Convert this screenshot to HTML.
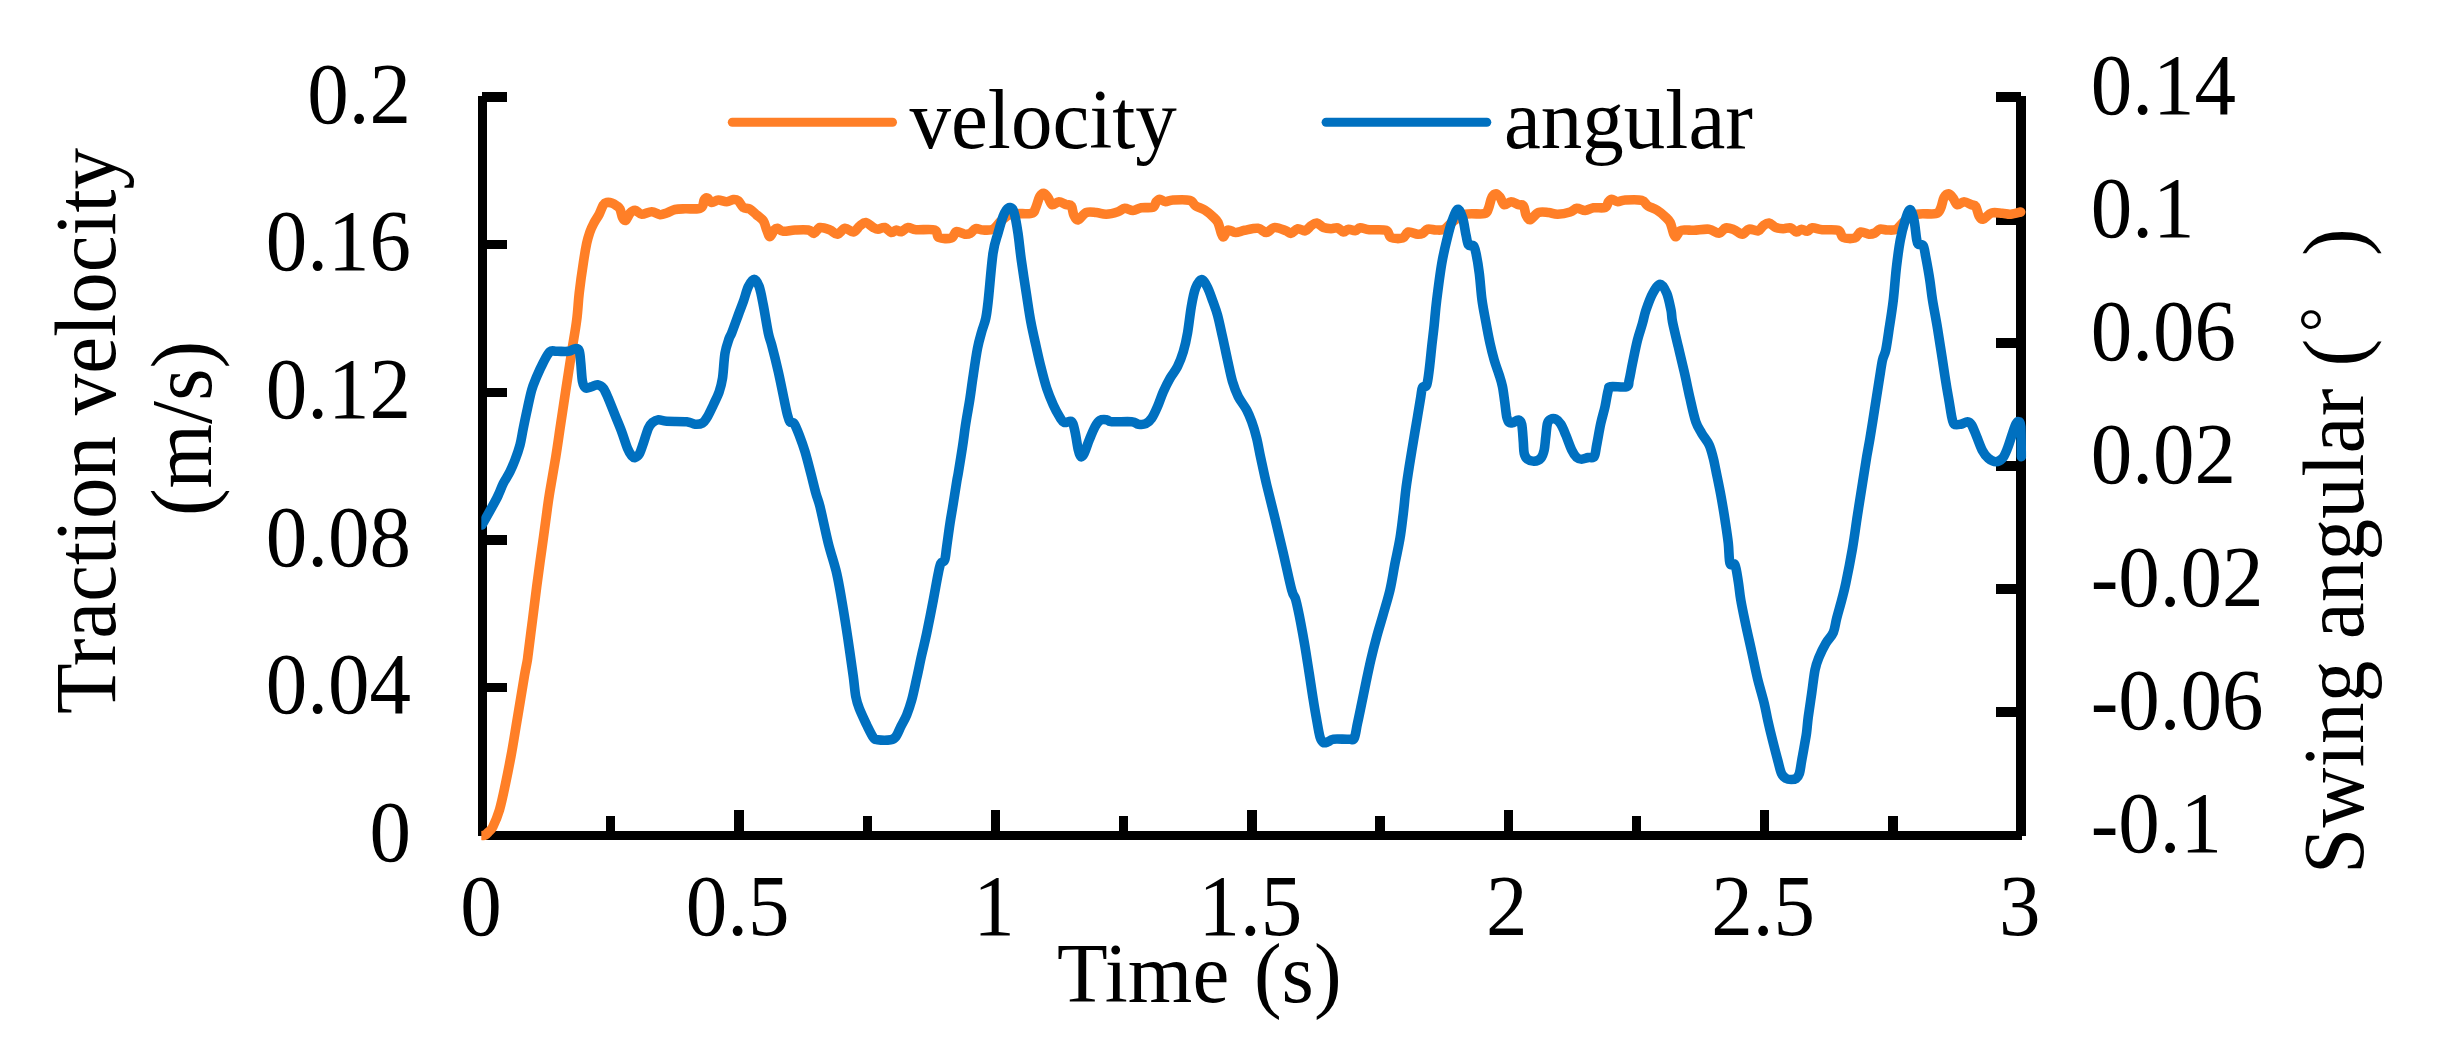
<!DOCTYPE html>
<html><head><meta charset="utf-8"><title>Traction velocity and swing angular</title>
<style>
html,body{margin:0;padding:0;background:#fff;}
body{width:2448px;height:1041px;overflow:hidden;}
svg{display:block;}
text{font-family:"Liberation Serif","Times New Roman",serif;font-size:83px;fill:#000;}
</style></head><body>
<svg width="2448" height="1041" viewBox="0 0 2448 1041">
<rect width="2448" height="1041" fill="#fff"/>

<g fill="#000" shape-rendering="crispEdges">
<rect x="478" y="96" width="9" height="739.5"/>
<rect x="2016" y="96" width="10" height="739.5"/>
<rect x="481.5" y="830.5" width="1540.5" height="9"/>
<rect x="482" y="682.7" width="25" height="9.4"/>
<rect x="482" y="535.1" width="25" height="9.4"/>
<rect x="482" y="387.5" width="25" height="9.4"/>
<rect x="482" y="239.9" width="25" height="9.4"/>
<rect x="482" y="92.3" width="25" height="9.4"/>
<rect x="1996" y="707.3" width="25" height="9.4"/>
<rect x="1996" y="584.3" width="25" height="9.4"/>
<rect x="1996" y="461.3" width="25" height="9.4"/>
<rect x="1996" y="338.3" width="25" height="9.4"/>
<rect x="1996" y="215.3" width="25" height="9.4"/>
<rect x="1996" y="92.3" width="25" height="9.4"/>
<rect x="606.0" y="816" width="9.4" height="15"/>
<rect x="734.2" y="810" width="9.4" height="21"/>
<rect x="862.5" y="816" width="9.4" height="15"/>
<rect x="990.7" y="810" width="9.4" height="21"/>
<rect x="1118.9" y="816" width="9.4" height="15"/>
<rect x="1247.1" y="810" width="9.4" height="21"/>
<rect x="1375.4" y="816" width="9.4" height="15"/>
<rect x="1503.6" y="810" width="9.4" height="21"/>
<rect x="1631.8" y="816" width="9.4" height="15"/>
<rect x="1760.0" y="810" width="9.4" height="21"/>
<rect x="1888.3" y="816" width="9.4" height="15"/>
</g>
<defs><clipPath id="pc"><rect x="481.3" y="80" width="1560" height="780"/></clipPath></defs><g clip-path="url(#pc)">
<path d="M482.5 835.5C482.9 835.5 484.1 835.8 485.1 835.2C486.1 834.6 487.2 833.4 488.5 832.0C489.8 830.6 491.0 830.7 492.8 827.0C494.6 823.3 497.4 816.8 499.5 809.8C501.6 802.8 503.4 793.8 505.3 784.8C507.2 775.8 509.2 765.6 511.0 756.0C512.8 746.4 514.3 736.8 515.9 727.2C517.5 717.6 519.3 707.0 520.7 698.4C522.1 689.8 523.4 681.8 524.5 675.4C525.6 669.0 526.8 663.7 527.4 660.0C528.0 656.3 527.4 659.7 528.3 653.0C529.1 646.3 531.1 631.0 532.5 620.0C533.9 609.0 535.2 598.4 536.7 586.7C538.2 575.0 540.0 562.2 541.7 550.0C543.4 537.8 545.4 522.8 546.7 513.3C548.0 503.8 548.1 502.4 549.6 493.0C551.1 483.6 553.9 468.3 555.8 456.7C557.7 445.1 559.1 434.4 560.8 423.3C562.5 412.2 564.0 401.9 565.8 390.0C567.6 378.1 569.9 363.4 571.7 351.7C573.5 340.0 575.5 329.7 576.7 320.0C578.0 310.3 578.1 302.8 579.2 293.3C580.3 283.9 582.0 271.6 583.3 263.3C584.5 255.0 585.6 248.6 586.7 243.3C587.8 238.0 588.8 235.2 590.0 231.7C591.2 228.2 592.7 225.4 594.2 222.5C595.7 219.6 597.7 217.1 599.2 214.2C600.7 211.3 602.0 206.9 603.3 205.0C604.5 203.1 605.3 202.8 606.7 202.5C608.1 202.2 610.0 202.4 611.7 203.0C613.4 203.6 615.3 204.8 616.7 205.8C618.1 206.8 619.0 207.1 620.0 209.0C621.0 210.9 621.5 215.6 622.5 217.5C623.5 219.4 624.5 221.0 625.8 220.3C627.0 219.6 628.5 215.0 630.0 213.3C631.5 211.6 633.0 210.2 635.0 210.3C637.0 210.5 638.9 214.0 641.7 214.2C644.5 214.4 648.7 211.6 651.7 211.7C654.8 211.8 657.5 214.5 660.0 214.7C662.5 214.9 664.2 213.9 666.7 213.0C669.2 212.1 672.0 210.2 675.0 209.5C678.0 208.8 681.1 208.9 685.0 208.8C688.9 208.7 695.4 209.1 698.3 208.7C701.2 208.3 701.5 207.8 702.5 206.3C703.5 204.9 703.4 201.4 704.2 200.0C705.0 198.6 706.2 197.6 707.5 198.0C708.8 198.4 709.9 202.2 711.7 202.5C713.5 202.8 715.8 200.1 718.3 200.0C720.8 199.9 724.2 201.8 726.7 201.7C729.2 201.6 731.4 199.7 733.3 199.5C735.2 199.3 736.6 199.5 738.3 200.8C740.0 202.1 741.3 206.1 743.3 207.5C745.2 208.9 747.8 207.9 750.0 209.2C752.2 210.4 754.5 213.1 756.7 215.0C758.9 216.9 761.6 218.3 763.3 220.8C765.0 223.3 765.6 227.3 766.7 230.0C767.8 232.7 768.8 236.7 770.0 236.7C771.2 236.7 773.0 231.4 774.2 230.0C775.5 228.6 776.0 228.1 777.5 228.3C779.0 228.5 780.4 231.0 783.3 231.3C786.2 231.6 790.8 230.2 795.0 230.0C799.2 229.8 805.1 229.4 808.3 230.0C811.5 230.6 812.2 233.7 814.2 233.3C816.2 232.9 817.4 228.1 820.0 227.5C822.6 226.9 827.1 228.9 830.0 230.0C832.9 231.1 835.0 234.5 837.5 234.2C840.0 233.9 842.4 228.7 845.0 228.3C847.6 227.9 850.8 232.4 853.3 232.0C855.8 231.6 857.9 227.4 860.0 225.8C862.1 224.2 863.6 222.2 865.8 222.5C868.0 222.8 871.3 226.4 873.3 227.5C875.3 228.6 876.1 229.2 878.0 229.2C879.9 229.2 882.5 226.9 884.7 227.5C886.9 228.1 889.4 232.1 891.3 232.5C893.2 232.9 894.6 230.1 896.3 230.0C898.0 229.9 899.3 232.1 901.3 231.7C903.2 231.3 905.5 227.8 908.0 227.5C910.5 227.2 911.8 229.3 916.3 229.7C920.8 230.1 931.0 228.7 934.7 230.0C938.5 231.3 936.0 236.2 938.8 237.5C941.6 238.8 948.4 239.0 951.3 238.0C954.2 237.0 954.1 232.3 956.3 231.7C958.5 231.1 962.3 233.9 964.7 234.2C967.1 234.5 968.7 234.2 970.5 233.3C972.3 232.4 973.4 229.2 975.5 228.7C977.6 228.1 980.1 229.9 983.0 230.0C985.9 230.1 990.0 230.7 993.0 229.2C996.0 227.7 998.2 223.3 1001.3 220.8C1004.3 218.3 1006.3 215.4 1011.3 214.2C1016.3 212.9 1027.3 214.3 1031.3 213.3C1035.3 212.3 1034.1 211.1 1035.5 208.3C1036.9 205.5 1038.3 199.2 1039.7 196.7C1041.1 194.2 1042.4 193.2 1043.8 193.3C1045.2 193.4 1046.6 195.6 1048.0 197.5C1049.4 199.4 1050.4 204.0 1052.2 204.7C1054.0 205.4 1056.5 201.7 1058.8 201.7C1061.1 201.7 1064.2 204.0 1066.3 204.7C1068.4 205.4 1070.0 204.1 1071.3 205.8C1072.5 207.5 1072.7 212.6 1073.8 215.0C1074.9 217.4 1075.9 220.4 1078.0 220.0C1080.1 219.6 1083.2 213.8 1086.3 212.5C1089.3 211.2 1093.0 212.2 1096.3 212.5C1099.6 212.8 1102.7 214.3 1106.3 214.2C1109.9 214.1 1114.9 212.7 1118.0 211.7C1121.1 210.7 1122.2 208.5 1124.7 208.3C1127.2 208.1 1130.2 210.6 1133.0 210.5C1135.8 210.4 1138.0 208.4 1141.3 207.8C1144.6 207.2 1150.5 208.2 1153.0 207.2C1155.5 206.2 1155.2 203.0 1156.3 201.7C1157.4 200.4 1158.2 199.2 1159.7 199.2C1161.2 199.2 1163.3 201.6 1165.5 201.7C1167.7 201.8 1169.0 200.2 1173.0 200.0C1177.0 199.8 1186.0 199.3 1189.7 200.3C1193.5 201.3 1193.0 204.2 1195.5 205.8C1198.0 207.4 1201.8 208.2 1204.7 210.0C1207.6 211.8 1210.8 214.6 1213.0 216.7C1215.2 218.8 1216.6 219.7 1218.0 222.5C1219.4 225.3 1220.3 230.9 1221.3 233.3C1222.3 235.7 1222.7 237.2 1223.8 236.7C1224.9 236.1 1226.0 230.7 1228.0 230.0C1230.0 229.3 1232.7 232.4 1235.5 232.5C1238.3 232.6 1241.0 231.0 1244.7 230.3C1248.5 229.6 1254.4 227.9 1258.0 228.3C1261.6 228.7 1263.5 232.6 1266.3 232.5C1269.1 232.4 1271.4 227.8 1274.7 227.5C1278.0 227.2 1283.3 229.8 1286.0 230.8C1288.7 231.8 1289.0 233.7 1291.0 233.3C1293.0 233.0 1295.3 229.1 1297.7 228.7C1300.1 228.3 1303.0 231.3 1305.2 230.8C1307.4 230.3 1309.1 227.1 1311.0 225.8C1312.9 224.5 1314.7 222.7 1316.8 223.0C1318.9 223.3 1321.1 226.6 1323.5 227.5C1325.9 228.4 1328.6 228.6 1331.0 228.7C1333.4 228.8 1335.6 227.2 1337.7 227.8C1339.8 228.4 1341.7 231.8 1343.5 232.0C1345.3 232.2 1346.5 229.4 1348.5 229.2C1350.5 229.0 1353.2 231.0 1355.2 230.8C1357.2 230.6 1357.9 228.0 1360.2 227.8C1362.5 227.6 1365.0 229.3 1369.3 229.7C1373.6 230.1 1382.4 229.0 1386.0 230.3C1389.6 231.6 1388.2 236.2 1391.0 237.5C1393.8 238.8 1399.8 238.9 1402.7 238.0C1405.6 237.1 1406.0 232.6 1408.5 232.0C1411.0 231.4 1415.3 234.0 1417.7 234.2C1420.1 234.4 1421.0 234.1 1422.7 233.3C1424.4 232.5 1425.5 229.8 1427.7 229.2C1429.9 228.6 1433.2 230.0 1436.0 230.0C1438.8 230.0 1441.5 230.6 1444.3 229.2C1447.1 227.8 1449.1 224.2 1452.7 221.7C1456.3 219.2 1460.7 215.5 1466.0 214.2C1471.3 212.9 1480.5 214.7 1484.3 213.7C1488.0 212.7 1487.2 211.0 1488.5 208.3C1489.8 205.6 1490.5 199.9 1491.8 197.5C1493.0 195.1 1494.6 193.7 1496.0 193.7C1497.4 193.7 1498.8 195.7 1500.2 197.5C1501.6 199.3 1502.5 204.0 1504.3 204.7C1506.1 205.4 1508.6 201.7 1511.0 201.7C1513.4 201.7 1516.4 204.0 1518.5 204.7C1520.6 205.4 1522.2 204.1 1523.5 205.8C1524.8 207.5 1524.9 212.7 1526.0 215.0C1527.1 217.3 1528.1 220.1 1530.2 219.7C1532.3 219.3 1535.5 213.7 1538.5 212.5C1541.5 211.3 1545.3 212.2 1548.5 212.5C1551.7 212.8 1554.1 214.3 1557.7 214.2C1561.3 214.1 1567.0 213.0 1570.2 212.0C1573.4 211.0 1574.3 208.6 1576.8 208.3C1579.3 208.1 1582.4 210.6 1585.2 210.5C1588.0 210.4 1590.2 208.3 1593.5 207.8C1596.8 207.3 1602.7 208.5 1605.2 207.5C1607.7 206.5 1607.4 203.1 1608.5 201.7C1609.6 200.3 1610.3 199.2 1611.8 199.2C1613.3 199.2 1615.5 201.6 1617.7 201.7C1619.9 201.8 1621.2 200.2 1625.2 200.0C1629.2 199.8 1638.0 199.3 1641.8 200.3C1645.5 201.3 1645.2 204.2 1647.7 205.8C1650.2 207.4 1653.9 208.2 1656.8 210.0C1659.7 211.8 1663.0 214.6 1665.2 216.7C1667.4 218.8 1668.8 219.7 1670.2 222.5C1671.6 225.3 1672.5 230.9 1673.5 233.3C1674.5 235.7 1674.9 237.1 1676.0 236.7C1677.1 236.3 1678.5 231.9 1680.2 230.8C1681.9 229.7 1683.7 230.1 1686.0 230.0C1688.3 229.9 1690.2 230.4 1694.0 230.3C1697.8 230.2 1704.8 228.7 1709.0 229.2C1713.2 229.7 1716.2 233.5 1719.0 233.3C1721.8 233.1 1723.2 228.6 1725.7 228.0C1728.2 227.4 1731.2 228.7 1734.0 229.7C1736.8 230.7 1739.8 234.3 1742.3 234.2C1744.8 234.1 1746.3 229.8 1749.0 229.2C1751.7 228.6 1755.8 231.4 1758.2 230.8C1760.6 230.2 1761.4 227.1 1763.2 225.8C1765.0 224.5 1766.9 222.7 1769.0 223.0C1771.1 223.3 1773.3 226.6 1775.7 227.5C1778.1 228.4 1780.7 228.6 1783.2 228.7C1785.7 228.8 1788.5 227.2 1790.7 227.8C1792.9 228.4 1794.7 231.8 1796.5 232.0C1798.3 232.2 1799.7 229.3 1801.5 229.2C1803.3 229.1 1805.5 231.5 1807.3 231.3C1809.1 231.1 1809.8 228.1 1812.3 227.8C1814.8 227.5 1818.0 229.3 1822.3 229.7C1826.6 230.1 1834.7 229.0 1838.2 230.3C1841.7 231.6 1840.4 236.2 1843.2 237.5C1846.0 238.8 1851.9 238.9 1854.8 238.0C1857.7 237.1 1858.3 232.6 1860.7 232.0C1863.1 231.4 1866.7 234.0 1869.0 234.2C1871.3 234.4 1873.0 233.8 1874.8 233.0C1876.6 232.2 1877.7 229.7 1879.8 229.2C1881.9 228.7 1884.5 230.0 1887.3 230.0C1890.1 230.0 1893.6 230.7 1896.5 229.2C1899.4 227.7 1901.3 223.3 1904.8 220.8C1908.3 218.3 1912.1 215.4 1917.3 214.2C1922.5 213.0 1931.8 214.7 1935.7 213.7C1939.6 212.7 1939.3 211.0 1940.7 208.3C1942.1 205.6 1942.7 199.9 1944.0 197.5C1945.3 195.1 1947.2 193.6 1948.7 193.7C1950.2 193.8 1951.8 196.5 1953.2 198.3C1954.6 200.1 1955.5 204.1 1957.3 204.7C1959.1 205.3 1961.6 201.7 1964.0 201.7C1966.4 201.7 1969.5 203.9 1971.5 204.7C1973.5 205.5 1974.5 204.5 1975.7 206.3C1977.0 208.2 1977.8 213.7 1979.0 215.8C1980.2 218.0 1981.1 219.7 1983.2 219.2C1985.3 218.7 1988.3 214.0 1991.5 213.0C1994.7 212.0 1999.1 213.1 2002.3 213.3C2005.5 213.5 2007.6 214.4 2010.7 214.2C2013.8 214.0 2019.0 212.4 2020.7 212.0" fill="none" stroke="#FF7F27" stroke-width="9.6" stroke-linejoin="round" stroke-linecap="round"/>
<path d="M482.0 525.0C484.2 521.1 492.1 507.0 495.0 501.7C497.9 496.4 497.8 496.1 499.2 493.0C500.6 489.9 501.5 486.9 503.3 483.3C505.1 479.8 508.1 475.6 510.0 471.7C511.9 467.8 513.3 464.4 515.0 460.0C516.7 455.6 518.6 450.3 520.0 445.0C521.4 439.7 522.0 434.4 523.3 428.3C524.5 422.2 526.1 414.7 527.5 408.3C528.9 401.9 530.2 395.3 531.7 390.0C533.2 384.7 534.8 381.3 536.7 376.7C538.6 372.1 541.1 366.7 543.3 362.5C545.5 358.3 547.8 353.6 550.0 351.7C552.2 349.8 553.7 351.4 556.7 351.3C559.8 351.2 565.2 351.7 568.3 351.3C571.3 350.9 573.2 348.8 575.0 348.7C576.8 348.6 578.2 348.4 579.2 350.8C580.2 353.2 580.2 358.2 580.8 363.3C581.3 368.4 581.7 377.6 582.5 381.7C583.3 385.8 584.3 387.2 585.8 388.0C587.3 388.8 589.8 387.2 591.7 386.7C593.7 386.1 595.6 384.4 597.5 384.7C599.4 385.0 601.5 386.0 603.3 388.3C605.1 390.6 606.3 393.9 608.3 398.3C610.2 402.8 612.8 409.4 615.0 415.0C617.2 420.6 619.6 426.1 621.7 431.7C623.8 437.2 625.8 444.3 627.5 448.3C629.2 452.3 630.5 454.3 631.7 455.8C633.0 457.3 633.8 457.8 635.0 457.5C636.2 457.2 637.8 456.6 639.2 454.2C640.6 451.8 641.8 447.6 643.3 443.3C644.8 439.0 646.8 431.8 648.3 428.3C649.8 424.8 650.8 423.9 652.5 422.5C654.2 421.1 655.9 419.9 658.3 419.7C660.7 419.5 662.0 421.0 666.7 421.3C671.4 421.6 682.0 421.2 686.7 421.7C691.4 422.2 692.4 424.0 695.0 424.2C697.6 424.4 700.4 424.2 702.5 423.0C704.6 421.8 705.7 419.7 707.5 416.7C709.3 413.7 711.3 409.2 713.3 405.0C715.2 400.8 717.7 396.1 719.2 391.7C720.7 387.2 721.5 384.7 722.5 378.3C723.5 371.9 723.9 360.0 725.0 353.3C726.1 346.6 728.1 341.7 729.2 338.3C730.3 334.9 730.2 336.9 731.7 333.0C733.2 329.1 736.4 320.2 738.3 315.0C740.2 309.8 741.6 306.4 743.3 301.7C745.0 297.0 746.5 290.4 748.3 286.7C750.1 283.0 752.4 279.3 754.2 279.3C756.0 279.3 757.7 282.4 759.2 286.7C760.7 291.0 761.8 297.3 763.3 305.0C764.8 312.7 766.9 326.3 768.3 333.0C769.7 339.7 770.0 338.6 771.7 345.0C773.4 351.4 776.2 362.5 778.3 371.7C780.4 380.9 782.7 392.8 784.2 400.0C785.7 407.2 786.5 411.3 787.5 415.0C788.5 418.7 788.9 420.6 790.0 422.0C791.1 423.4 792.7 421.5 794.2 423.7C795.7 425.9 797.4 430.3 799.2 435.0C801.0 439.7 803.1 445.3 805.0 451.7C806.9 458.1 809.0 466.4 810.8 473.3C812.6 480.2 814.3 487.4 815.8 493.0C817.3 498.6 817.9 498.3 820.0 506.7C822.1 515.1 825.5 532.2 828.3 543.3C831.1 554.4 834.5 563.8 836.7 573.3C838.9 582.8 840.2 591.4 841.7 600.0C843.2 608.6 844.4 616.1 845.8 625.0C847.2 633.9 848.8 644.7 850.0 653.3C851.2 661.9 852.3 669.5 853.3 676.7C854.3 683.9 854.8 691.4 855.8 696.7C856.8 702.0 857.4 703.6 859.2 708.3C861.0 713.0 864.4 720.1 866.7 725.0C869.1 729.9 871.5 735.0 873.3 737.5C875.1 740.0 874.6 739.3 877.5 739.7C880.4 740.1 887.8 740.2 890.8 739.7C893.8 739.2 894.1 738.9 895.8 736.7C897.5 734.5 899.0 730.3 900.8 726.7C902.6 723.1 904.9 719.5 906.7 715.0C908.5 710.5 910.0 706.1 911.7 700.0C913.4 693.9 915.0 685.8 916.7 678.3C918.4 670.8 920.0 662.5 921.7 655.0C923.4 647.5 924.8 642.5 926.7 633.3C928.6 624.1 931.4 610.0 933.3 600.0C935.2 590.0 937.0 579.4 938.3 573.3C939.5 567.2 939.7 565.5 940.8 563.3C941.9 561.1 943.7 562.8 944.7 560.0C945.7 557.2 945.8 552.8 946.7 546.7C947.6 540.6 948.9 530.5 950.0 523.3C951.1 516.1 952.2 510.2 953.3 503.3C954.4 496.4 955.9 486.8 956.7 481.7C957.5 476.6 957.3 478.8 958.3 473.0C959.3 467.2 961.2 455.0 962.5 446.7C963.8 438.4 964.5 431.4 965.8 423.3C967.0 415.2 968.8 406.4 970.0 398.3C971.2 390.2 972.0 383.3 973.3 375.0C974.5 366.7 976.1 355.5 977.5 348.3C978.9 341.1 980.3 336.7 981.7 331.7C983.1 326.7 984.7 323.6 985.8 318.3C986.9 313.0 987.1 310.8 988.3 300.0C989.5 289.2 991.4 264.4 993.0 253.3C994.6 242.2 996.3 239.4 998.0 233.3C999.7 227.2 1001.6 220.6 1003.0 216.7C1004.4 212.8 1005.2 211.5 1006.3 210.0C1007.4 208.5 1008.5 207.2 1009.7 207.5C1011.0 207.8 1012.4 207.4 1013.8 211.7C1015.2 216.0 1016.8 225.2 1018.0 233.3C1019.2 241.4 1019.9 250.0 1021.3 260.0C1022.7 270.0 1024.7 283.0 1026.3 293.3C1027.9 303.6 1029.2 313.1 1030.8 321.7C1032.4 330.3 1034.1 337.5 1035.8 345.0C1037.5 352.5 1039.0 359.5 1040.8 366.7C1042.6 373.9 1044.6 381.9 1046.7 388.3C1048.8 394.7 1051.1 400.1 1053.3 405.0C1055.5 409.9 1058.2 414.6 1060.0 417.5C1061.8 420.4 1062.2 421.8 1064.2 422.5C1066.2 423.2 1069.9 420.2 1071.7 421.7C1073.5 423.2 1073.9 427.0 1075.0 431.7C1076.1 436.4 1077.3 445.8 1078.3 450.0C1079.3 454.2 1079.8 456.1 1080.8 456.7C1081.8 457.2 1082.8 456.1 1084.2 453.3C1085.6 450.5 1087.4 444.4 1089.2 440.0C1091.0 435.6 1093.2 430.0 1095.0 426.7C1096.8 423.4 1098.0 421.5 1100.0 420.3C1102.0 419.1 1104.8 419.5 1106.7 419.7C1108.7 419.9 1107.5 421.4 1111.7 421.7C1115.9 422.0 1127.3 421.3 1131.7 421.7C1136.1 422.1 1136.0 423.9 1138.3 424.2C1140.6 424.5 1143.6 424.7 1145.8 423.7C1148.0 422.7 1149.8 421.1 1151.7 418.3C1153.7 415.5 1155.6 411.1 1157.5 406.7C1159.4 402.3 1161.2 396.4 1163.3 391.7C1165.4 387.0 1167.6 382.5 1170.0 378.3C1172.4 374.1 1175.3 371.1 1177.5 366.7C1179.7 362.3 1181.6 357.3 1183.3 351.7C1185.0 346.1 1186.2 340.8 1187.5 333.3C1188.8 325.8 1190.0 314.2 1191.3 306.7C1192.6 299.2 1193.8 292.8 1195.5 288.3C1197.2 283.8 1199.3 280.0 1201.3 279.7C1203.2 279.4 1205.2 283.0 1207.2 286.7C1209.2 290.4 1211.3 297.0 1213.0 301.7C1214.7 306.4 1215.9 309.2 1217.5 315.0C1219.1 320.8 1220.8 329.2 1222.5 336.7C1224.2 344.2 1225.8 352.5 1227.5 360.0C1229.2 367.5 1230.7 375.6 1232.5 381.7C1234.3 387.8 1235.9 392.0 1238.3 396.7C1240.7 401.4 1244.5 405.8 1246.7 410.0C1248.9 414.2 1250.0 417.0 1251.7 421.7C1253.4 426.4 1255.2 432.2 1256.7 438.3C1258.2 444.4 1259.1 450.5 1260.8 458.3C1262.5 466.1 1264.3 475.0 1266.7 485.0C1269.1 495.0 1272.2 506.9 1275.0 518.3C1277.8 529.7 1280.5 541.3 1283.3 553.3C1286.1 565.2 1289.6 582.2 1291.7 590.0C1293.8 597.8 1294.3 594.5 1295.8 600.0C1297.3 605.5 1299.3 615.5 1300.8 623.3C1302.3 631.1 1303.6 638.4 1305.0 646.7C1306.4 655.0 1307.8 664.4 1309.2 673.3C1310.6 682.2 1312.0 692.2 1313.3 700.0C1314.5 707.8 1315.6 713.8 1316.7 720.0C1317.8 726.2 1318.9 733.2 1320.0 737.0C1321.1 740.8 1321.9 741.7 1323.3 742.5C1324.7 743.3 1326.6 742.2 1328.3 741.7C1330.0 741.2 1329.8 739.6 1333.3 739.2C1336.8 738.8 1345.5 739.4 1349.0 739.2C1352.5 739.0 1352.8 740.9 1354.2 738.2C1355.6 735.6 1356.2 729.1 1357.5 723.3C1358.8 717.5 1360.3 710.0 1361.7 703.3C1363.1 696.6 1364.3 690.5 1365.8 683.3C1367.3 676.1 1369.0 667.8 1370.8 660.0C1372.6 652.2 1374.6 644.4 1376.7 636.7C1378.8 629.0 1381.1 621.8 1383.3 614.0C1385.5 606.2 1388.0 598.5 1390.0 590.0C1392.0 581.5 1393.3 571.9 1395.0 563.3C1396.7 554.7 1398.6 546.6 1400.0 538.3C1401.4 530.0 1402.3 521.3 1403.3 513.3C1404.3 505.2 1404.8 497.8 1405.8 490.0C1406.8 482.2 1408.0 474.8 1409.2 466.7C1410.5 458.6 1411.9 450.0 1413.3 441.7C1414.7 433.4 1416.2 424.2 1417.5 416.7C1418.8 409.2 1420.0 401.6 1420.8 396.7C1421.6 391.8 1421.5 389.4 1422.5 387.5C1423.5 385.6 1425.6 387.9 1426.7 385.0C1427.8 382.1 1428.4 376.4 1429.2 370.0C1430.0 363.6 1430.9 354.2 1431.7 346.7C1432.5 339.2 1433.4 332.8 1434.2 325.0C1435.0 317.2 1435.4 310.3 1436.7 300.0C1438.0 289.7 1440.1 273.3 1441.8 263.3C1443.5 253.3 1445.1 246.9 1446.8 240.0C1448.5 233.1 1450.0 226.8 1451.8 221.7C1453.6 216.6 1455.9 209.9 1457.7 209.3C1459.5 208.7 1461.3 214.0 1462.7 218.3C1464.1 222.6 1465.0 230.6 1466.0 235.0C1467.0 239.4 1467.2 243.2 1468.5 245.0C1469.8 246.8 1472.2 244.4 1473.5 245.8C1474.8 247.2 1475.0 248.7 1476.0 253.3C1477.0 257.9 1478.3 265.5 1479.3 273.3C1480.3 281.1 1480.9 291.9 1482.0 300.0C1483.1 308.1 1484.5 314.5 1485.8 321.7C1487.1 328.9 1488.6 336.9 1490.0 343.3C1491.4 349.7 1492.7 354.7 1494.2 360.0C1495.7 365.3 1497.8 370.6 1499.2 375.0C1500.6 379.4 1501.6 382.2 1502.5 386.7C1503.4 391.1 1504.0 396.7 1504.7 401.7C1505.4 406.7 1506.0 413.2 1506.7 416.7C1507.5 420.2 1508.1 421.5 1509.2 422.5C1510.3 423.5 1511.8 422.9 1513.3 422.5C1514.8 422.1 1516.9 419.7 1518.3 420.0C1519.7 420.3 1520.9 420.6 1521.7 424.2C1522.5 427.8 1522.9 436.8 1523.3 441.7C1523.7 446.6 1523.5 450.4 1524.2 453.3C1524.9 456.2 1525.8 457.9 1527.5 459.2C1529.2 460.5 1532.0 461.4 1534.2 461.3C1536.4 461.2 1539.1 460.2 1540.8 458.3C1542.5 456.4 1543.4 453.6 1544.2 450.0C1545.0 446.4 1545.2 441.1 1545.8 436.7C1546.3 432.2 1546.7 426.2 1547.5 423.3C1548.3 420.4 1549.4 419.9 1550.8 419.2C1552.2 418.5 1554.1 418.4 1555.8 419.2C1557.5 420.0 1559.1 421.6 1560.8 424.2C1562.5 426.8 1564.0 430.7 1565.8 435.0C1567.6 439.3 1569.9 446.2 1571.7 450.0C1573.5 453.8 1575.0 456.0 1576.7 457.5C1578.4 459.0 1579.8 459.2 1581.7 459.2C1583.6 459.2 1586.2 457.9 1588.3 457.5C1590.4 457.1 1592.8 458.8 1594.2 456.7C1595.6 454.6 1595.6 450.6 1596.7 445.0C1597.8 439.4 1599.4 429.7 1600.8 423.3C1602.2 416.9 1603.8 412.2 1605.0 406.7C1606.2 401.1 1607.3 393.3 1608.3 390.0C1609.3 386.7 1607.7 387.2 1610.8 386.7C1613.9 386.1 1623.6 387.8 1626.7 386.7C1629.8 385.6 1628.2 383.9 1629.2 380.0C1630.2 376.1 1631.1 370.0 1632.5 363.3C1633.9 356.6 1635.8 346.7 1637.5 340.0C1639.2 333.3 1641.1 328.3 1642.5 323.3C1643.9 318.3 1644.3 315.0 1646.0 310.0C1647.7 305.0 1650.3 297.6 1652.7 293.3C1655.1 289.0 1657.9 284.2 1660.2 284.2C1662.5 284.2 1665.0 289.0 1666.8 293.3C1668.6 297.6 1670.0 305.3 1671.0 310.0C1672.0 314.7 1671.3 315.6 1672.5 321.7C1673.7 327.8 1676.3 338.4 1678.3 346.7C1680.2 355.0 1682.2 363.1 1684.2 371.7C1686.2 380.3 1688.1 390.0 1690.0 398.3C1691.9 406.6 1693.8 415.9 1695.8 421.7C1697.8 427.5 1699.5 429.4 1701.7 433.3C1703.9 437.2 1707.3 440.8 1709.2 445.0C1711.1 449.2 1712.2 454.1 1713.3 458.3C1714.4 462.5 1714.5 463.9 1715.8 470.0C1717.0 476.1 1719.3 486.7 1720.8 495.0C1722.3 503.3 1723.8 511.9 1725.0 520.0C1726.2 528.0 1727.5 536.1 1728.3 543.3C1729.1 550.5 1728.9 559.7 1730.0 563.3C1731.1 566.9 1733.6 561.9 1735.0 565.0C1736.4 568.1 1737.3 575.9 1738.3 581.7C1739.3 587.5 1739.5 592.8 1740.8 600.0C1742.0 607.2 1744.0 616.4 1745.8 625.0C1747.6 633.6 1749.8 642.8 1751.7 651.7C1753.7 660.6 1755.4 669.7 1757.5 678.3C1759.6 686.9 1762.5 696.3 1764.2 703.3C1765.9 710.2 1766.3 713.7 1767.7 720.0C1769.1 726.3 1771.0 734.2 1772.7 740.9C1774.4 747.6 1776.2 754.7 1777.7 760.1C1779.2 765.5 1780.1 770.4 1781.5 773.5C1782.9 776.6 1784.5 777.5 1786.1 778.5C1787.7 779.5 1789.4 779.5 1791.1 779.5C1792.8 779.5 1794.7 779.5 1796.1 778.5C1797.5 777.5 1798.5 776.3 1799.4 773.5C1800.3 770.7 1800.7 766.5 1801.5 761.8C1802.3 757.1 1803.7 750.0 1804.5 745.1C1805.3 740.2 1806.0 737.2 1806.6 732.5C1807.2 727.8 1807.4 723.2 1808.3 716.7C1809.2 710.2 1810.6 701.1 1811.7 693.3C1812.8 685.5 1813.8 676.1 1815.0 670.0C1816.2 663.9 1817.4 661.2 1819.2 656.7C1821.0 652.2 1823.5 647.3 1825.8 643.3C1828.1 639.3 1831.5 636.7 1833.3 632.5C1835.1 628.3 1835.3 623.7 1836.7 618.3C1838.1 612.9 1840.2 605.8 1841.7 600.0C1843.2 594.2 1844.0 591.9 1845.8 583.3C1847.6 574.7 1850.5 559.7 1852.5 548.3C1854.5 536.9 1855.8 525.8 1857.5 515.0C1859.2 504.2 1861.0 493.0 1862.5 483.3C1864.0 473.6 1865.5 464.2 1866.7 456.7C1868.0 449.2 1868.6 446.6 1870.0 438.3C1871.4 430.0 1873.5 416.4 1875.0 406.7C1876.5 397.0 1878.0 387.8 1879.2 380.0C1880.5 372.2 1881.4 365.0 1882.5 360.0C1883.6 355.0 1884.7 355.3 1885.8 350.0C1886.9 344.7 1888.0 336.6 1889.2 328.3C1890.5 320.0 1892.1 310.3 1893.3 300.0C1894.5 289.7 1895.3 276.7 1896.5 266.7C1897.7 256.7 1898.9 247.5 1900.3 240.0C1901.7 232.5 1903.2 226.8 1904.8 221.7C1906.4 216.6 1908.3 210.0 1909.8 209.7C1911.3 209.4 1912.9 215.2 1914.0 220.0C1915.1 224.8 1915.8 234.3 1916.5 238.3C1917.2 242.3 1917.1 242.9 1918.2 244.2C1919.3 245.4 1922.0 243.7 1923.2 245.8C1924.5 247.9 1924.6 251.0 1925.7 256.7C1926.8 262.4 1928.7 272.8 1929.8 280.0C1930.9 287.2 1931.2 291.9 1932.5 300.0C1933.8 308.1 1936.0 319.1 1937.5 328.3C1939.0 337.5 1940.3 346.1 1941.7 355.0C1943.1 363.9 1944.5 373.9 1945.8 381.7C1947.0 389.5 1948.2 395.9 1949.2 401.7C1950.2 407.5 1950.9 412.9 1951.7 416.7C1952.5 420.4 1952.7 422.9 1954.2 424.2C1955.7 425.4 1958.6 424.6 1960.8 424.2C1963.0 423.8 1965.7 421.6 1967.5 421.7C1969.3 421.8 1970.2 422.5 1971.7 425.0C1973.2 427.5 1974.9 432.4 1976.7 436.7C1978.5 441.0 1980.6 447.2 1982.5 450.8C1984.4 454.4 1986.1 456.5 1988.3 458.3C1990.5 460.1 1993.4 461.7 1995.8 461.7C1998.2 461.7 2000.5 460.5 2002.5 458.3C2004.5 456.1 2005.8 452.5 2007.5 448.3C2009.2 444.1 2011.1 437.3 2012.5 433.3C2013.9 429.3 2014.8 426.1 2015.8 424.2C2016.8 422.3 2017.9 421.3 2018.7 421.7C2019.5 422.1 2020.4 420.9 2020.8 426.7C2021.2 432.5 2021.2 451.7 2021.3 456.7" fill="none" stroke="#0070C0" stroke-width="9.6" stroke-linejoin="round" stroke-linecap="round"/>
</g>
<path d="M732.3 122.3 H892.5" stroke="#FF7F27" stroke-width="9" stroke-linecap="round" fill="none"/>
<path d="M1326.1 122.3 H1486.8" stroke="#0070C0" stroke-width="9" stroke-linecap="round" fill="none"/>
<text transform="translate(909.5 148.0) scale(1 1.018)">velocity</text>
<text transform="translate(1504.0 148.0) scale(1 1.018)">angular</text>
<text transform="translate(411.0 860.8) scale(1 1.04)" text-anchor="end">0</text>
<text transform="translate(411.0 713.2) scale(1 1.04)" text-anchor="end">0.04</text>
<text transform="translate(411.0 565.6) scale(1 1.04)" text-anchor="end">0.08</text>
<text transform="translate(411.0 418.0) scale(1 1.04)" text-anchor="end">0.12</text>
<text transform="translate(411.0 270.4) scale(1 1.04)" text-anchor="end">0.16</text>
<text transform="translate(411.0 122.8) scale(1 1.04)" text-anchor="end">0.2</text>
<text transform="translate(2090.7 852.0) scale(1 1.04)">-0.1</text>
<text transform="translate(2090.7 729.0) scale(1 1.04)">-0.06</text>
<text transform="translate(2090.7 606.0) scale(1 1.04)">-0.02</text>
<text transform="translate(2090.7 483.0) scale(1 1.04)">0.02</text>
<text transform="translate(2090.7 360.0) scale(1 1.04)">0.06</text>
<text transform="translate(2090.7 237.0) scale(1 1.04)">0.1</text>
<text transform="translate(2090.7 114.0) scale(1 1.04)">0.14</text>
<text transform="translate(481.0 934.7) scale(1 1.04)" text-anchor="middle">0</text>
<text transform="translate(737.5 934.7) scale(1 1.04)" text-anchor="middle">0.5</text>
<text transform="translate(993.9 934.7) scale(1 1.04)" text-anchor="middle">1</text>
<text transform="translate(1250.3 934.7) scale(1 1.04)" text-anchor="middle">1.5</text>
<text transform="translate(1506.8 934.7) scale(1 1.04)" text-anchor="middle">2</text>
<text transform="translate(1763.2 934.7) scale(1 1.04)" text-anchor="middle">2.5</text>
<text transform="translate(2019.7 934.7) scale(1 1.04)" text-anchor="middle">3</text>
<text transform="translate(1057.0 1001.7) scale(1 1.025)" word-spacing="4">Time (s)</text>
<text transform="translate(115.0 431.0) rotate(-90) scale(1 1.04)" text-anchor="middle">Traction velocity</text>
<text transform="translate(210.5 428.5) rotate(-90) scale(1 1.04)" text-anchor="middle">(m/s)</text>
<text transform="translate(2363.0 874.0) rotate(-90) scale(1 1.04)"><tspan letter-spacing="0.3">Swing angular </tspan><tspan x="507.6">(</tspan><tspan x="542" dy="-17.2" font-size="62">°</tspan><tspan x="618" dy="17.2">)</tspan></text>
</svg></body></html>
